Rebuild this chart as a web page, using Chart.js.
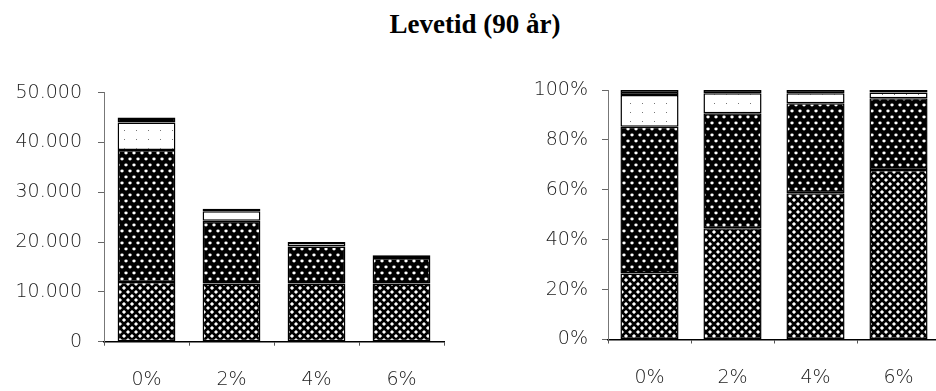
<!DOCTYPE html>
<html>
<head>
<meta charset="utf-8">
<script src="https://cdn.jsdelivr.net/npm/chart.js@4.4.0/dist/chart.umd.min.js"></script>
<style>
  html, body { margin: 0; padding: 0; background: #fff; overflow: hidden; width: 936px; height: 391px; }
  #title { position: absolute; left: 0; width: 950px; top: 9px; text-align: center;
           font: bold 27px "Liberation Serif", "Times New Roman", serif; color: #000; }
  #left { position: absolute; left: 0; top: 0; }
  #right { position: absolute; left: 470px; top: 0; }
</style>
</head>
<body>
<div id="title">Levetid (90 år)</div>
<canvas id="left" width="450" height="391"></canvas>
<canvas id="right" width="470" height="391"></canvas>
<script>
const categories = ['0%', '2%', '4%', '6%'];

// venstre diagram: absolutte værdier
const crossVals = [12000, 11700, 11700, 11700];
const darkVals = [26500, 12600, 7400, 5100];
const lightVals = [5500, 1900, 700, 450];
const blackVals = [1000, 500, 200, 150];
const leftTicks = ['0', '10.000', '20.000', '30.000', '40.000', '50.000'];

// højre diagram: andele i procent
const crossPct = [26.5, 44.6, 58.6, 67.9];
const darkPct = [58.8, 46.1, 36.1, 28.8];
const lightPct = [12.7, 8.0, 4.0, 2.3];
const blackPct = [2.0, 1.3, 1.3, 1.0];
const rightTicks = ['0%', '20%', '40%', '60%', '80%', '100%'];

function makePattern(w, h, draw) {
  const c = document.createElement('canvas');
  c.width = w; c.height = h;
  const g = c.getContext('2d');
  draw(g, w, h);
  return document.createElement('canvas').getContext('2d').createPattern(c, 'repeat');
}

const crossPattern = makePattern(8, 8, (g, w, h) => {
  g.fillStyle = '#fff'; g.fillRect(0, 0, w, h);
  g.strokeStyle = '#000'; g.lineWidth = 2.7;
  g.beginPath();
  g.moveTo(-1, -1); g.lineTo(w + 1, h + 1);
  g.moveTo(w + 1, -1); g.lineTo(-1, h + 1);
  g.stroke();
});

const dotPattern = makePattern(8, 12, (g, w, h) => {
  g.fillStyle = '#000'; g.fillRect(0, 0, w, h);
  g.fillStyle = '#fff';
  g.beginPath(); g.ellipse(2, 3, 1.7, 1.4, 0, 0, Math.PI * 2); g.fill();
  g.beginPath(); g.ellipse(6, 9, 1.7, 1.4, 0, 0, Math.PI * 2); g.fill();
});

const lightPattern = makePattern(12, 9, (g, w, h) => {
  g.fillStyle = '#fff'; g.fillRect(0, 0, w, h);
  g.fillStyle = '#777'; g.fillRect(4, 4, 1, 1);
});

const fills = [crossPattern, dotPattern, lightPattern, '#000'];

function datasets(series) {
  return series.map((vals, i) => ({
    data: vals,
    backgroundColor: fills[i],
    borderColor: '#000',
    borderWidth: 1.5,
    borderSkipped: false
  }));
}

const tickFont = { family: '"DejaVu Sans", sans-serif', size: 19, weight: 200 };

function makeChart(id, series, max, step, labels, opt) {
  return new Chart(document.getElementById(id), {
    type: 'bar',
    data: { labels: categories, datasets: datasets(series) },
    options: {
      responsive: false,
      animation: false,
      layout: { padding: { top: opt.top, right: opt.right, left: 0, bottom: 0 } },
      plugins: { legend: { display: false }, tooltip: { enabled: false } },
      datasets: { bar: { barPercentage: opt.bar, categoryPercentage: 1 } },
      scales: {
        x: {
          stacked: true,
          grid: { display: true, drawOnChartArea: false, tickLength: 4, color: '#555' },
          border: { display: true, color: '#000', width: 1.5 },
          ticks: { font: tickFont, color: '#222', padding: 23 },
          afterFit: s => { s.height = opt.xh; }
        },
        y: {
          stacked: true,
          min: 0, max: max,
          grid: { display: true, drawOnChartArea: false, tickLength: 6, color: '#666' },
          border: { display: true, color: '#777', width: 1, dash: [1, 2] },
          ticks: {
            stepSize: step, font: tickFont, color: '#222', padding: opt.pad,
            callback: (v, i) => labels[i]
          },
          afterFit: s => { s.width = opt.yw; }
        }
      }
    }
  });
}

makeChart('left', [crossVals, darkVals, lightVals, blackVals], 50000, 10000, leftTicks,
  { top: 92.7, right: 6, bar: 0.68, xh: 49.3, yw: 104, pad: 16 });
makeChart('right', [crossPct, darkPct, lightPct, blackPct], 100, 20, rightTicks,
  { top: 90, right: 0, bar: 0.7, xh: 51.5, yw: 138, pad: 14 });
</script>
</body>
</html>
